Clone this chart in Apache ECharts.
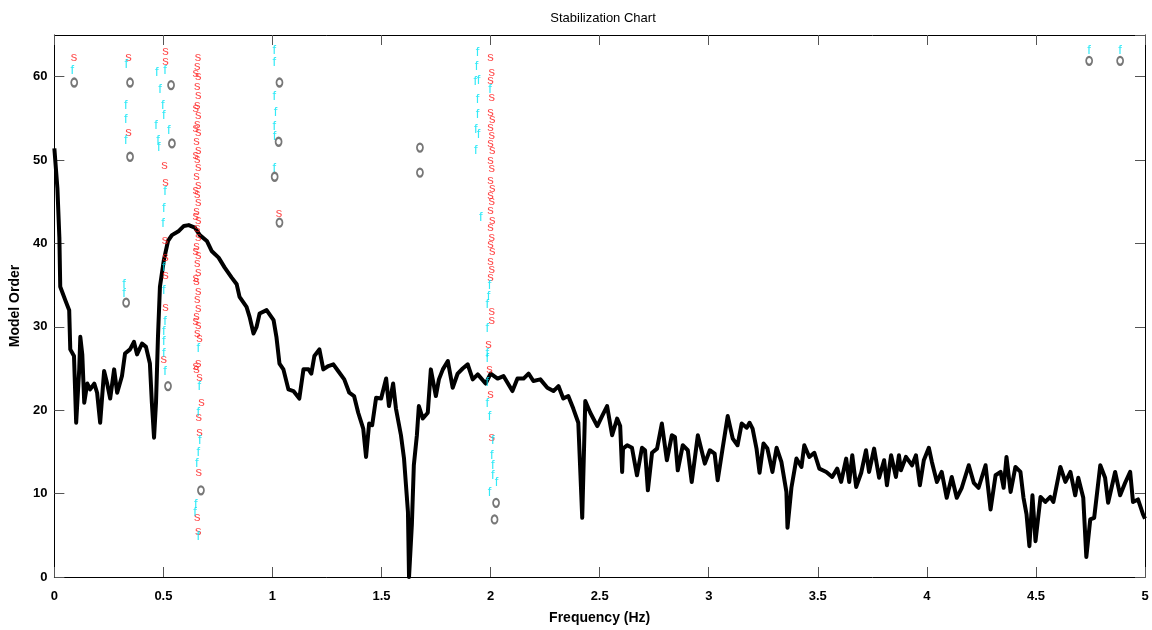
<!DOCTYPE html>
<html>
<head>
<meta charset="utf-8">
<script src="https://cdn.jsdelivr.net/npm/echarts/dist/echarts.min.js"></script>
<style>
  html, body { margin: 0; padding: 0; background: #fff; }
  #main { width: 1152px; height: 630px; }
</style>
</head>
<body>
<div id="main"></div>
<script>
// spectrum curve (frequency in Hz, scaled amplitude)
var spectrumFreq = [0, 0.014, 0.023, 0.027, 0.05, 0.068, 0.073, 0.09, 0.1, 0.114, 0.119, 0.128, 0.137, 0.151, 0.164, 0.183, 0.196, 0.21, 0.228, 0.242,
  0.256, 0.274, 0.288, 0.31, 0.324, 0.347, 0.365, 0.379, 0.402, 0.42, 0.438, 0.447, 0.457, 0.466, 0.475, 0.484, 0.502, 0.521, 0.539, 0.571,
  0.594, 0.616, 0.644, 0.667, 0.699, 0.721, 0.753, 0.781, 0.813, 0.836, 0.849, 0.881, 0.895, 0.913, 0.927, 0.941, 0.973, 1.005, 1.018, 1.032,
  1.05, 1.073, 1.096, 1.123, 1.142, 1.165, 1.178, 1.192, 1.215, 1.233, 1.256, 1.279, 1.301, 1.329, 1.352, 1.374, 1.393, 1.416, 1.429, 1.443,
  1.457, 1.475, 1.498, 1.521, 1.534, 1.553, 1.566, 1.589, 1.603, 1.621, 1.626, 1.639, 1.648, 1.662, 1.671, 1.689, 1.712, 1.726, 1.749, 1.763,
  1.781, 1.804, 1.826, 1.849, 1.872, 1.895, 1.918, 1.941, 1.977, 2.0, 2.032, 2.059, 2.1, 2.123, 2.151, 2.174, 2.196, 2.228, 2.26, 2.288,
  2.311, 2.333, 2.356, 2.379, 2.402, 2.42, 2.434, 2.457, 2.489, 2.511, 2.534, 2.557, 2.58, 2.594, 2.603, 2.607, 2.626, 2.648, 2.671, 2.694,
  2.708, 2.721, 2.74, 2.763, 2.785, 2.808, 2.831, 2.845, 2.858, 2.881, 2.904, 2.922, 2.95, 2.982, 3.005, 3.027, 3.041, 3.064, 3.087, 3.11,
  3.132, 3.151, 3.174, 3.187, 3.201, 3.219, 3.233, 3.251, 3.269, 3.292, 3.311, 3.333, 3.356, 3.361, 3.379, 3.402, 3.425, 3.438, 3.461, 3.484,
  3.507, 3.539, 3.566, 3.589, 3.607, 3.63, 3.644, 3.658, 3.676, 3.699, 3.721, 3.735, 3.758, 3.781, 3.804, 3.817, 3.836, 3.858, 3.872, 3.881,
  3.904, 3.932, 3.95, 3.968, 3.986, 4.009, 4.023, 4.046, 4.068, 4.091, 4.114, 4.137, 4.16, 4.192, 4.215, 4.237, 4.269, 4.292, 4.315, 4.338,
  4.352, 4.365, 4.384, 4.406, 4.429, 4.443, 4.457, 4.47, 4.484, 4.498, 4.521, 4.543, 4.566, 4.58, 4.612, 4.635, 4.658, 4.68, 4.694, 4.717,
  4.731, 4.749, 4.767, 4.795, 4.817, 4.831, 4.863, 4.886, 4.909, 4.932, 4.945, 4.968, 4.991, 5.0];
var spectrumAmp = [51.4, 46.6, 40.7, 34.8, 33.2, 32, 27.3, 26.5, 18.5, 24.9, 28.8, 26.7, 20.9, 23.2, 22.5, 23.2, 22.1, 18.5, 24.7, 23.2,
  21.4, 24.9, 22.1, 24.1, 26.8, 27.3, 28.2, 26.7, 28, 27.6, 25.6, 20.9, 16.7, 20.9, 28.8, 34.8, 38, 40.3, 41, 41.5,
  42.1, 42.2, 41.9, 41, 40.3, 39.1, 38.3, 37.1, 35.9, 35.1, 33.6, 32.4, 31.2, 29.2, 30, 31.6, 32, 30.8, 28.8, 25.6,
  24.9, 22.5, 22.3, 21.4, 24.9, 24.9, 24.4, 26.5, 27.3, 24.9, 25.3, 25.5, 24.7, 23.7, 22.1, 21.7, 19.7, 17.8, 14.4, 18.4,
  18.2, 21.5, 21.4, 23.8, 20.5, 23.2, 20.2, 17, 14.2, 7.8, 0, 6.3, 13.4, 17, 20.5, 19, 19.7, 24.9, 21.7, 23.7,
  24.9, 25.9, 22.7, 24.4, 25, 25.5, 23.7, 24.3, 23.2, 24.4, 23.8, 24.1, 22.3, 23.8, 23.8, 24.4, 23.5, 23.7, 22.7, 22.3,
  22.9, 21.4, 21.7, 20.2, 18.5, 7.1, 21.1, 19.7, 18.1, 19.3, 20.5, 17, 19, 18.1, 12.6, 15.4, 15.8, 15.5, 12.2, 15.5,
  15.2, 10.4, 14.9, 15.4, 18.4, 14, 17, 16.8, 12.8, 15.8, 15.2, 11.4, 17, 13.6, 15.2, 14.8, 11.6, 15.5, 19.3, 16.6,
  15.8, 18.4, 17.9, 18.5, 17.8, 15.4, 12.5, 16, 15.4, 12.6, 15.5, 13.8, 10.2, 5.9, 10.7, 14.2, 13.2, 15.8, 14.4, 14.9,
  13, 12.6, 12, 13, 11.4, 14.2, 11.4, 14.6, 10.8, 12.5, 15.2, 12.6, 15.4, 11.9, 14, 11, 14.6, 12, 14.6, 12.8,
  14.4, 13.4, 14.6, 11, 14, 15.5, 13.8, 11.4, 12.6, 9.5, 12, 9.5, 10.7, 13.4, 11.3, 10.7, 13.4, 8.1, 12.2, 12.6,
  10.7, 14.4, 10.2, 13.2, 12.6, 9.5, 7.5, 3.7, 9.8, 4.3, 9.6, 9, 9.6, 9, 13.2, 11.4, 12.6, 9.8, 11.9, 9.5,
  2.4, 6.9, 7.1, 13.4, 11.9, 8.9, 12.6, 9.8, 11.3, 12.6, 9, 9.3, 7.5, 7];

// stable poles [frequency, model order]
var sMarks = [[0.09, 62.3], [0.34, 62.3], [0.34, 53.3],
  [0.51, 63], [0.51, 61.8], [0.505, 49.3], [0.51, 47.3], [0.507, 40.4], [0.51, 38.3], [0.51, 36.2], [0.51, 32.3], [0.502, 26.1],
  [0.658, 62.3], [0.655, 61.2], [0.66, 60], [0.655, 58.8], [0.66, 57.8], [0.655, 56.6], [0.66, 55.4], [0.655, 54.3], [0.66, 53.3], [0.652, 52.2],
  [0.66, 51.2], [0.655, 50.1], [0.66, 49.1], [0.652, 48], [0.66, 47], [0.655, 45.9], [0.66, 44.9], [0.652, 43.8], [0.66, 42.8], [0.655, 41.8],
  [0.66, 40.7], [0.652, 39.6], [0.66, 38.6], [0.655, 37.6], [0.66, 36.5], [0.652, 35.4], [0.66, 34.3], [0.655, 33.3], [0.66, 32.2], [0.652, 31.2],
  [0.66, 30.2], [0.655, 29.2], [0.665, 28.6], [0.66, 25.6], [0.652, 24.9], [0.665, 23.9], [0.675, 20.9], [0.662, 19.1], [0.665, 17.3], [0.662, 12.5],
  [0.655, 7.1], [0.66, 5.5],
  [0.648, 60.4], [0.648, 56.2], [0.648, 53.8], [0.648, 50.5], [0.648, 46.4], [0.648, 43.2], [0.648, 39.1], [0.648, 35.8], [0.648, 30.6], [0.648, 25.2],
  [1.03, 43.6],
  [2.0, 62.3], [2.005, 60.5], [2.0, 59.5], [2.005, 57.5], [2.0, 55.7], [2.008, 54.9], [2.0, 53.9], [2.005, 52.9], [2.0, 52], [2.008, 51.2],
  [2.0, 50], [2.005, 49], [2.0, 47.6], [2.008, 46.6], [2.0, 45.8], [2.005, 45], [2.0, 44], [2.008, 42.8], [2.0, 41.9], [2.005, 40.7],
  [2.0, 39.9], [2.008, 39.1], [2.0, 37.9], [2.005, 36.9], [2.0, 35.9],
  [2.005, 31.8], [2.005, 30.8], [1.99, 27.9], [1.995, 24.9], [2.0, 21.9], [2.005, 16.7]];

// frequency-stable poles
var fMarks = [[0.082, 60.8],
  [0.33, 61.5], [0.327, 56.5], [0.327, 54.9], [0.327, 52.3], [0.32, 35.1], [0.32, 34],
  [0.47, 60.5], [0.507, 60.8], [0.484, 58.5], [0.497, 56.5], [0.502, 55.3], [0.466, 54.1], [0.525, 53.5], [0.475, 52.3], [0.479, 51.5],
  [0.507, 46.3], [0.502, 44.2], [0.498, 42.4], [0.502, 37.1], [0.502, 34.4], [0.507, 30.7], [0.502, 29.4], [0.502, 28.3], [0.502, 26.8], [0.507, 24.7],
  [0.66, 27.4], [0.665, 22.9], [0.66, 19.7], [0.667, 16.4], [0.66, 14.9], [0.653, 13.6], [0.648, 8.7], [0.645, 7.8], [0.66, 4.9],
  [1.008, 63.2], [1.008, 61.7], [1.008, 57.6], [1.014, 55.7], [1.008, 54], [1.01, 52.8], [1.008, 49],
  [1.94, 62.9], [1.935, 61.2], [1.93, 59.4], [1.945, 59.6], [1.94, 57.3], [1.94, 55.5], [1.932, 53.7], [1.945, 53.1], [1.932, 51.1], [1.955, 43.1], [1.998, 58.5],
  [1.995, 35], [1.99, 33.6], [1.985, 32.7], [1.985, 29.8], [1.985, 26.8], [1.985, 26.2], [1.985, 23.3], [1.985, 20.8], [1.995, 19.3], [2.01, 16.4],
  [2.005, 14.6], [2.01, 13.4], [2.01, 12.2], [2.027, 11.3], [1.995, 10.1],
  [4.744, 63.2], [4.886, 63.2]];

// new / unstable poles
var oMarks = [[0.091, 59.3], [0.347, 59.3], [0.347, 50.4], [0.329, 32.9], [0.535, 59], [0.539, 52], [0.521, 22.9], [0.672, 10.4],
  [1.032, 59.3], [1.028, 52.2], [1.01, 48], [1.032, 42.5], [1.676, 51.5], [1.676, 48.5], [2.025, 8.9], [2.018, 6.9], [4.744, 61.9], [4.886, 61.9]];

var spectrumData = spectrumFreq.map(function (f, i) { return [f, spectrumAmp[i]]; });

var fontFam = 'Liberation Sans, Arial, sans-serif';

function textMarks(name, data, txt, color) {
  return {
    name: name,
    type: 'scatter',
    data: data,
    symbol: 'circle',
    symbolSize: 1,
    itemStyle: { color: 'rgba(0,0,0,0)' },
    z: 5,
    label: {
      show: true,
      position: 'inside',
      formatter: txt,
      color: color,
      fontSize: 13,
      fontWeight: 'normal',
      fontFamily: fontFam
    }
  };
}

var Chart = echarts.init(document.getElementById('main'));
var axisCommon = {
  type: 'value',
  axisLine: { show: true, onZero: false, lineStyle: { color: '#000', width: 1 } },
  axisTick: { show: true, inside: true, length: 10, lineStyle: { color: '#555' } },
  splitLine: { show: false }
};
var option = {
  animation: false,
  backgroundColor: '#fff',
  title: {
    text: 'Stabilization Chart',
    left: 598,
    textAlign: 'center',
    top: 7,
    textStyle: { fontSize: 13, fontWeight: 'normal', color: '#000', fontFamily: fontFam }
  },
  grid: { left: 52, right: 7, top: 35, bottom: 47, containLabel: false },
  xAxis: [
    Object.assign({}, axisCommon, {
      min: 0, max: 5, interval: 0.5,
      position: 'bottom',
      name: 'Frequency (Hz)',
      nameLocation: 'middle',
      nameGap: 34,
      nameTextStyle: { fontSize: 14, fontWeight: 'bold', color: '#000', fontFamily: fontFam },
      axisLabel: { margin: 13, fontSize: 13, fontWeight: 'bold', color: '#000', fontFamily: fontFam }
    }),
    Object.assign({}, axisCommon, {
      min: 0, max: 5, interval: 0.5,
      position: 'top',
      axisLabel: { show: false }
    })
  ],
  yAxis: [
    Object.assign({}, axisCommon, {
      min: 0, max: 65, interval: 10,
      position: 'left',
      name: 'Model Order',
      nameLocation: 'middle',
      nameGap: 31,
      nameTextStyle: { fontSize: 14, fontWeight: 'bold', color: '#000', fontFamily: fontFam },
      axisLabel: { margin: 7, fontSize: 13, fontWeight: 'bold', color: '#000', fontFamily: fontFam, showMaxLabel: false }
    }),
    Object.assign({}, axisCommon, {
      min: 0, max: 65, interval: 10,
      position: 'right',
      axisLabel: { show: false }
    })
  ],
  series: [
    {
      name: 'spectrum',
      type: 'line',
      data: spectrumData,
      showSymbol: false,
      symbol: 'none',
      z: 2,
      lineStyle: { color: '#000', width: 4, join: 'round' }
    },
    textMarks('stable', sMarks, 's', '#ff1a1a'),
    textMarks('freq', fMarks, 'f', '#00e5f5'),
    {
      name: 'new',
      type: 'scatter',
      data: oMarks,
      symbol: 'emptyCircle',
      symbolSize: [6, 8],
      z: 6,
      itemStyle: { color: '#555', borderColor: '#555', borderWidth: 0.6 }
    }
  ]
};
Chart.setOption(option);
</script>
</body>
</html>
